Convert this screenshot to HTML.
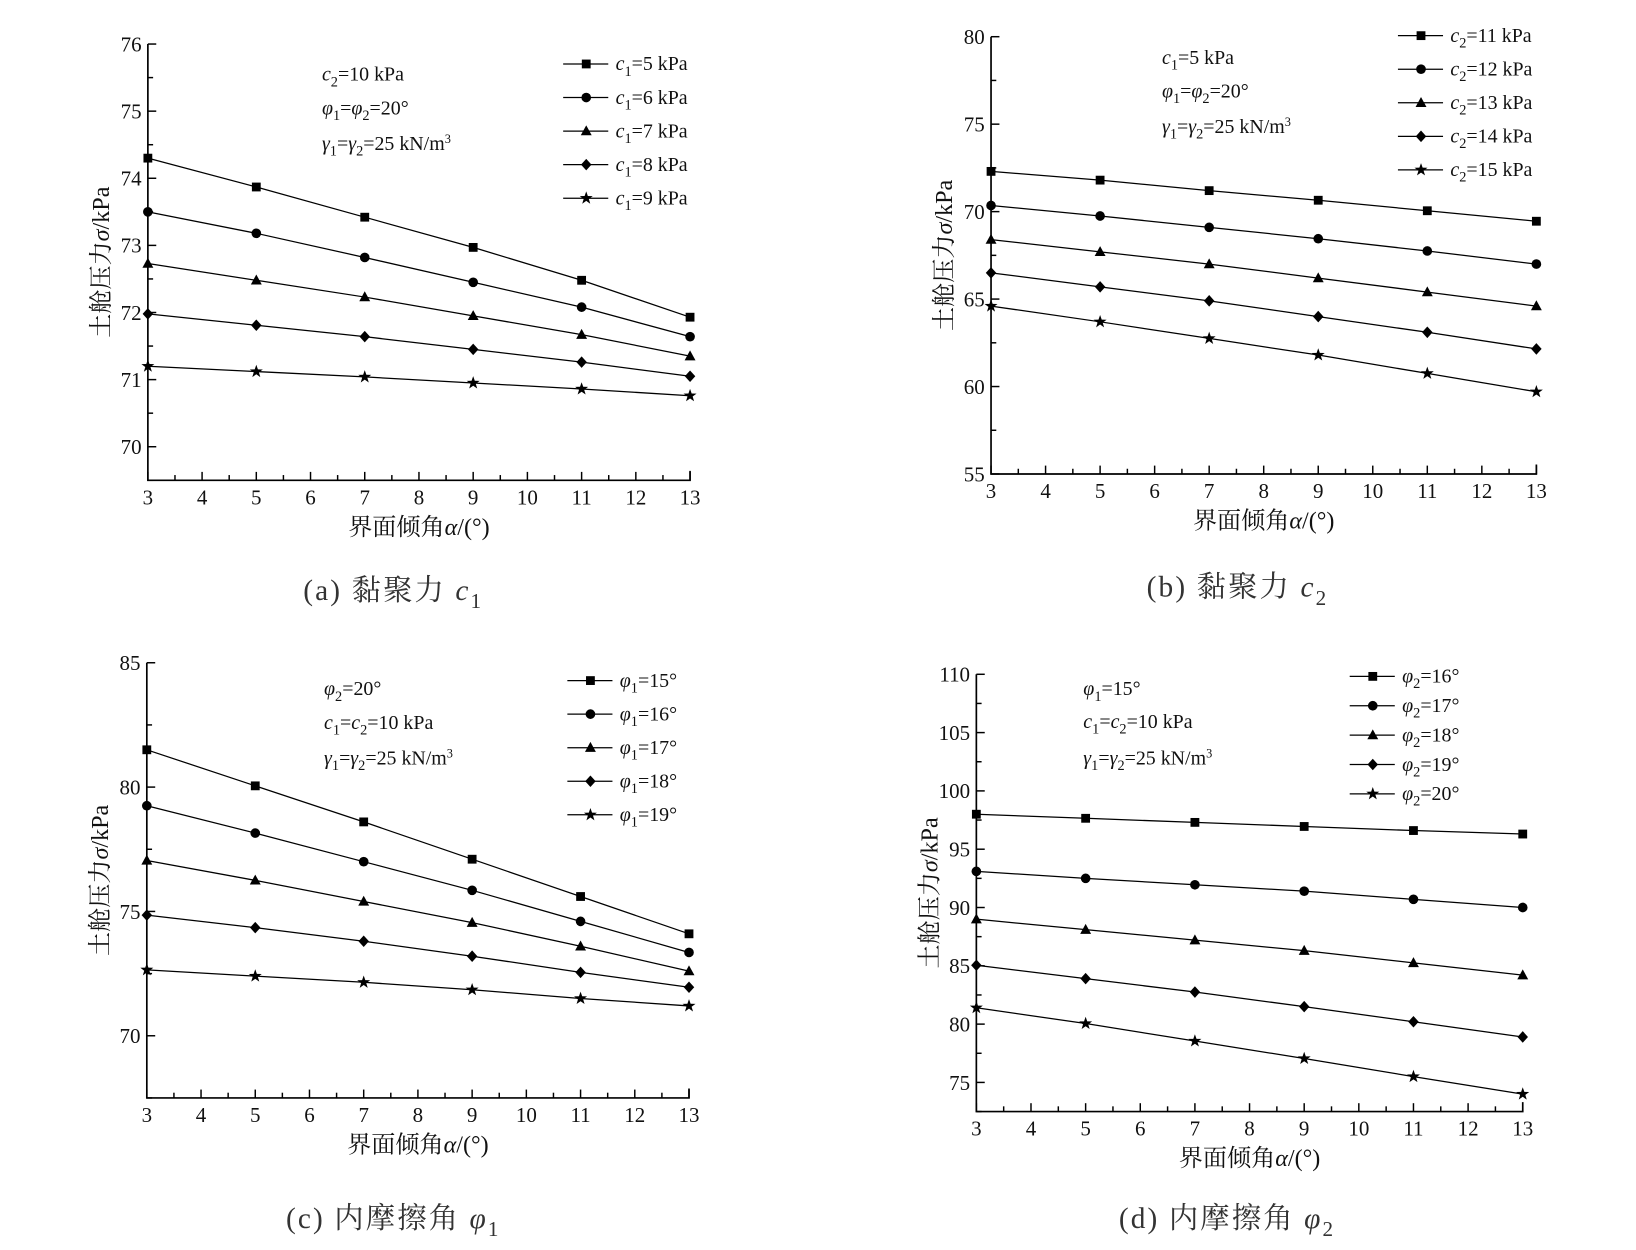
<!DOCTYPE html>
<html><head><meta charset="utf-8">
<style>
html,body{margin:0;padding:0;background:#fff;}
svg{display:block;}
text{font-family:"Liberation Serif","Noto Serif CJK SC",serif;fill:#111;}
.cap{font-family:"Liberation Serif","Noto Serif CJK SC",serif;fill:#333;}
</style></head>
<body>
<svg id="root" width="1636" height="1250" viewBox="0 0 1560 1192" preserveAspectRatio="none" xmlns="http://www.w3.org/2000/svg"></svg>
<script>
// ---- data ----
const xValues = [3, 5, 7, 9, 11, 13];
const xTicks = [3,4,5,6,7,8,9,10,11,12,13];

const aSeries1 = [74.3, 73.87, 73.42, 72.97, 72.48, 71.93];
const aSeries2 = [73.5, 73.18, 72.82, 72.45, 72.08, 71.64];
const aSeries3 = [72.73, 72.48, 72.23, 71.95, 71.67, 71.35];
const aSeries4 = [71.98, 71.81, 71.64, 71.45, 71.26, 71.05];
const aSeries5 = [71.2, 71.12, 71.04, 70.95, 70.86, 70.76];
const aYTicks = [70, 71, 72, 73, 74, 75, 76];
const aLegendVals = ["5", "6", "7", "8", "9"];

const bSeries1 = [72.3, 71.8, 71.2, 70.65, 70.05, 69.45];
const bSeries2 = [70.35, 69.75, 69.1, 68.45, 67.75, 67.0];
const bSeries3 = [68.4, 67.7, 67.0, 66.2, 65.4, 64.6];
const bSeries4 = [66.5, 65.7, 64.9, 64.0, 63.1, 62.15];
const bSeries5 = [64.6, 63.7, 62.75, 61.8, 60.75, 59.7];
const bYTicks = [55, 60, 65, 70, 75, 80];
const bLegendVals = ["11", "12", "13", "14", "15"];

const cSeries1 = [81.5, 80.05, 78.6, 77.1, 75.6, 74.1];
const cSeries2 = [79.25, 78.15, 77.0, 75.85, 74.6, 73.35];
const cSeries3 = [77.05, 76.25, 75.4, 74.55, 73.6, 72.6];
const cSeries4 = [74.85, 74.35, 73.8, 73.2, 72.55, 71.95];
const cSeries5 = [72.65, 72.4, 72.15, 71.85, 71.5, 71.2];
const cYTicks = [70, 75, 80, 85];
const cLegendVals = ["15", "16", "17", "18", "19"];

const dSeries1 = [98.0, 97.65, 97.3, 96.95, 96.6, 96.3];
const dSeries2 = [93.1, 92.5, 91.95, 91.4, 90.7, 90.0];
const dSeries3 = [89.0, 88.1, 87.2, 86.3, 85.25, 84.2];
const dSeries4 = [85.05, 83.9, 82.75, 81.5, 80.2, 78.9];
const dSeries5 = [81.4, 80.05, 78.55, 77.05, 75.5, 74.0];
const dYTicks = [75, 80, 85, 90, 95, 100, 105, 110];
const dLegendVals = ["16", "17", "18", "19", "20"];

const NS = "http://www.w3.org/2000/svg";
const root = document.getElementById("root");
function mk(tag, attrs, parent) {
  const e = document.createElementNS(NS, tag);
  for (const k in attrs) e.setAttribute(k, attrs[k]);
  (parent || root).appendChild(e);
  return e;
}
function richText(parent, x, y, parts, size, anchor) {
  const t = mk("text", {x: x, y: y, "font-size": size, "text-anchor": anchor || "start"}, parent);
  parts.forEach(p => {
    const s = mk("tspan", {}, t);
    s.textContent = p[0];
    if (p[1] === "i") s.setAttribute("font-style", "italic");
    if (p[1] === "sub") { s.setAttribute("font-size", size * 0.72); s.setAttribute("dy", size * 0.28); }
    if (p[1] === "back") { s.setAttribute("dy", -size * 0.28); }
    if (p[1] === "sup") { s.setAttribute("font-size", size * 0.62); s.setAttribute("dy", -size * 0.35); }
  });
  return t;
}
function marker(g, kind, x, y) {
  let m;
  if (kind === 0) m = mk("rect", {x: x - 4.2, y: y - 4.2, width: 8.4, height: 8.4, fill: "#000"}, g);
  else if (kind === 1) m = mk("circle", {cx: x, cy: y, r: 4.6, fill: "#000"}, g);
  else if (kind === 2) m = mk("polygon", {points: `${x},${y-5.5} ${x+5.2},${y+4} ${x-5.2},${y+4}`, fill: "#000"}, g);
  else if (kind === 3) m = mk("polygon", {points: `${x},${y-5.5} ${x+5},${y} ${x},${y+5.5} ${x-5},${y}`, fill: "#000"}, g);
  else {
    let pts = [];
    for (let i = 0; i < 10; i++) {
      const r = i % 2 === 0 ? 6.5 : 2.6;
      const a = -Math.PI / 2 + i * Math.PI / 5;
      pts.push((x + r * Math.cos(a)).toFixed(2) + "," + (y + r * Math.sin(a)).toFixed(2));
    }
    m = mk("polygon", {points: pts.join(" "), fill: "#000"}, g);
  }
  return m;
}

function panel(cfg) {
  const g = mk("g", {});
  
  
  const X = v => cfg.x0 + (v - 3) / 10 * (cfg.x1 - cfg.x0);
  const Y = v => cfg.yb - (v - cfg.ymin) / (cfg.ymax - cfg.ymin) * (cfg.yb - cfg.yt);
  const ax = mk("path", {d: `M${cfg.x0},${cfg.yt}V${cfg.yb}H${cfg.x1}V${cfg.yb - 9}`, fill: "none", stroke: "#000", "stroke-width": 1.6}, g);
  
  
  for (let v = cfg.ymin; v <= cfg.ymax + 1e-6; v += cfg.minor) {
    const isMajor = cfg.yTicks.some(t => Math.abs(t - v) < 1e-6);
    mk("line", {x1: cfg.x0, x2: cfg.x0 + (isMajor ? 8 : 5), y1: Y(v), y2: Y(v), stroke: "#000", "stroke-width": 1.4}, g);
  }
  cfg.yTicks.forEach(v => {
    const t = mk("text", {x: cfg.x0 - 6, y: Y(v) + 7, "font-size": 20, "text-anchor": "end"}, g);
    t.textContent = v;
    
    
  });
  for (let v = 3; v <= 13.0001; v += 0.5) {
    const isMajor = Math.abs(v - Math.round(v)) < 1e-6;
    mk("line", {x1: X(v), x2: X(v), y1: cfg.yb, y2: cfg.yb - (isMajor ? 8 : 5), stroke: "#000", "stroke-width": 1.4}, g);
  }
  xTicks.forEach(v => {
    const t = mk("text", {x: X(v), y: cfg.yb + 23, "font-size": 20, "text-anchor": "middle"}, g);
    t.textContent = v;
    
    
  });
  const xt = richText(g, (cfg.x0 + cfg.x1) / 2, cfg.yb + 52, [["界面倾角"], ["α", "i"], ["/(°)"]], 23, "middle");
  
  
  const yt = richText(g, 0, 0, [["土舱压力"], ["σ", "i"], ["/kPa"]], 23, "middle");
  yt.setAttribute("transform", `translate(${cfg.x0 - 37},${(cfg.yt + cfg.yb) / 2}) rotate(-90)`);
  
  
  cfg.series.forEach((s, k) => {
    const sg = mk("g", {}, g);
    
    
    const d = s.map((v, i) => (i ? "L" : "M") + X(xValues[i]).toFixed(2) + "," + Y(v).toFixed(2)).join("");
    const p = mk("path", {d: d, fill: "none", stroke: "#000", "stroke-width": 1.2}, sg);
    
    
    s.forEach((v, i) => {
      const m = marker(sg, k, X(xValues[i]), Y(v));
      
      
    });
  });
  const lg = mk("g", {}, g);
  
  
  cfg.legendVals.forEach((v, k) => {
    const y = cfg.legY[k];
    const e = mk("g", {}, lg);
    
    
    mk("line", {x1: cfg.legX, x2: cfg.legX + 43, y1: y, y2: y, stroke: "#000", "stroke-width": 1.2}, e);
    marker(e, k, cfg.legX + 22, y);
    richText(e, cfg.legX + 50, y + 6, cfg.legLabel(v), 19);
  });
  const an = mk("g", {}, g);
  
  
  cfg.notes.forEach((n, i) => richText(an, cfg.noteX, cfg.noteY[i], n, 19));
  const c = richText(g, cfg.capX, cfg.capY, cfg.caption, 28, "middle");
  c.setAttribute("class", "cap");
  c.setAttribute("letter-spacing", "2");
  
  
}

const gammaNote = [["γ", "i"], ["1", "sub"], ["=", "back"], ["γ", "i"], ["2", "sub"], ["=25 kN/m", "back"], ["3", "sup"]];
const phiNote = [["φ", "i"], ["1", "sub"], ["=", "back"], ["φ", "i"], ["2", "sub"], ["=20°", "back"]];

panel({name: "panel-a", x0: 141, x1: 658, yt: 42, yb: 458, ymin: 69.5, ymax: 76, minor: 0.5,
  yTicks: aYTicks, series: [aSeries1, aSeries2, aSeries3, aSeries4, aSeries5], legendVals: aLegendVals,
  legX: 537, legY: [61, 93, 125, 157, 189],
  legLabel: v => [["c", "i"], ["1", "sub"], ["=" + v + " kPa", "back"]],
  noteX: 307, noteY: [77, 109, 143],
  notes: [[["c", "i"], ["2", "sub"], ["=10 kPa", "back"]], phiNote, gammaNote],
  capX: 375, capY: 572, caption: [["(a) 黏聚力 "], ["c", "i"], ["1", "sub"]]});

panel({name: "panel-b", x0: 945, x1: 1465, yt: 35, yb: 452, ymin: 55, ymax: 80, minor: 2.5,
  yTicks: bYTicks, series: [bSeries1, bSeries2, bSeries3, bSeries4, bSeries5], legendVals: bLegendVals,
  legX: 1333, legY: [34, 66, 98, 130, 162],
  legLabel: v => [["c", "i"], ["2", "sub"], ["=" + v + " kPa", "back"]],
  noteX: 1108, noteY: [61, 93, 127],
  notes: [[["c", "i"], ["1", "sub"], ["=5 kPa", "back"]], phiNote, gammaNote],
  capX: 1180, capY: 569, caption: [["(b) 黏聚力 "], ["c", "i"], ["2", "sub"]]});

panel({name: "panel-c", x0: 140, x1: 657, yt: 632, yb: 1047, ymin: 67.5, ymax: 85, minor: 2.5,
  yTicks: cYTicks, series: [cSeries1, cSeries2, cSeries3, cSeries4, cSeries5], legendVals: cLegendVals,
  legX: 541, legY: [649, 681, 713, 745, 777],
  legLabel: v => [["φ", "i"], ["1", "sub"], ["=" + v + "°", "back"]],
  noteX: 309, noteY: [663, 695, 729],
  notes: [[["φ", "i"], ["2", "sub"], ["=20°", "back"]], [["c", "i"], ["1", "sub"], ["=", "back"], ["c", "i"], ["2", "sub"], ["=10 kPa", "back"]], gammaNote],
  capX: 375, capY: 1171, caption: [["(c) 内摩擦角 "], ["φ", "i"], ["1", "sub"]]});

panel({name: "panel-d", x0: 931, x1: 1452, yt: 643, yb: 1060, ymin: 72.5, ymax: 110, minor: 2.5,
  yTicks: dYTicks, series: [dSeries1, dSeries2, dSeries3, dSeries4, dSeries5], legendVals: dLegendVals,
  legX: 1287, legY: [645, 673, 701, 729, 757],
  legLabel: v => [["φ", "i"], ["2", "sub"], ["=" + v + "°", "back"]],
  noteX: 1033, noteY: [663, 694, 729],
  notes: [[["φ", "i"], ["1", "sub"], ["=15°", "back"]], [["c", "i"], ["1", "sub"], ["=", "back"], ["c", "i"], ["2", "sub"], ["=10 kPa", "back"]], gammaNote],
  capX: 1170, capY: 1171, caption: [["(d) 内摩擦角 "], ["φ", "i"], ["2", "sub"]]});
</script>
</body></html>
